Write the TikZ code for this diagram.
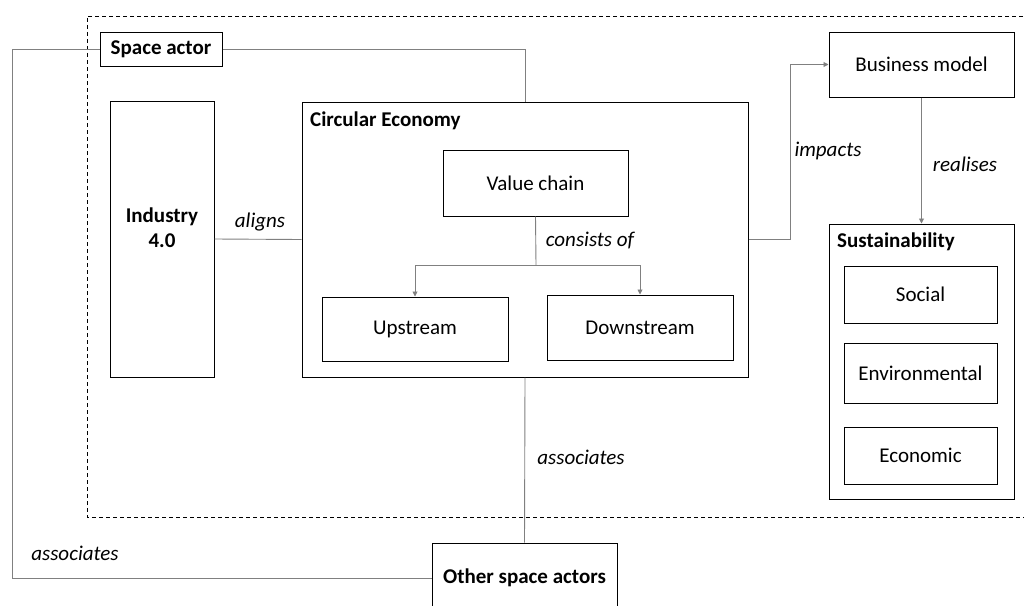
\documentclass[tikz,border=0pt]{standalone}
\usepackage{fontspec}
\setmainfont{Carlito}
\usetikzlibrary{arrows.meta}

\begin{document}
\begin{tikzpicture}[x=1pt,y=-1pt,
  box/.style = {draw,line width=1pt,rectangle,inner sep=0pt,font=\fontsize{21}{25}\selectfont},
  boldbox/.style = {box,font=\fontsize{21}{25}\selectfont\bfseries},
  title/.style = {anchor=west,inner sep=0pt,font=\fontsize{21}{25}\selectfont\bfseries},
  rel/.style = {draw=black!50,line width=0.9pt},
  lbl/.style = {inner sep=0pt,font=\fontsize{21}{25}\selectfont\itshape},
  >={Triangle[length=5pt,width=5pt]}]
\useasboundingbox (0,0) rectangle (1024,605);

\draw[dashed,line width=0.9pt,dash pattern=on 4pt off 3pt] (1030,16) -- (87,16) -- (87,517) -- (1030,517);

\node[boldbox,minimum width=122,minimum height=34] (sa) at (161,49) {Space actor};
\node[box,minimum width=104,minimum height=276] (ind) at (162,239) {};
\node[title,anchor=center,align=center] (indt) at (162,228) {Industry\\4.0};
\node[box,minimum width=446,minimum height=275] (ce) at (525,239.5) {};
\node[title] (cet) at (310,121) {Circular Economy};
\node[box,minimum width=185,minimum height=66] (vc) at (535.5,183) {Value chain};
\node[box,minimum width=186,minimum height=64] (up) at (415,329) {Upstream};
\node[box,minimum width=186,minimum height=65] (down) at (640,327.5) {Downstream};
\node[box,minimum width=185,minimum height=65] (bm) at (921.5,64.5) {Business model};
\node[box,minimum width=185,minimum height=275] (sus) at (921.5,361.5) {};
\node[title] (sust) at (837,242) {Sustainability};
\node[box,minimum width=153,minimum height=57] (soc) at (920.5,294.5) {Social};
\node[box,minimum width=153,minimum height=60] (env) at (920.5,373) {Environmental};
\node[box,minimum width=153,minimum height=57] (eco) at (920.5,455.5) {Economic};
\node[boldbox,minimum width=185,minimum height=70] (osa) at (524.5,578) {Other space actors};

\coordinate (left) at (12,49);
\coordinate (split) at (536,265);

\draw[rel] (sa.west) -- (left) |- (osa.west);
\draw[rel] (sa.east) -| (ce.north);
\draw[rel] (ind.east) -- (ce.west);
\draw[rel] (vc.south) -- (split);
\draw[rel,->] (split) -| (up.north);
\draw[rel,->] (split) -| (down.north);
\draw[rel,->] (ce.east) -- ++(42,0) |- (bm.west);
\draw[rel,->] (bm.south) -- (sus.north);
\draw[rel] (ce.south) -- (osa.north);

\node[lbl] (l1) at (260,222) {aligns};
\node[lbl] (l2) at (590,241) {consists of};
\node[lbl] (l3) at (828,151) {impacts};
\node[lbl] (l4) at (965,164) {realises};
\node[lbl] (l5) at (581,457) {associates};
\node[lbl] (l6) at (75,553) {associates};
\end{tikzpicture}
\end{document}
